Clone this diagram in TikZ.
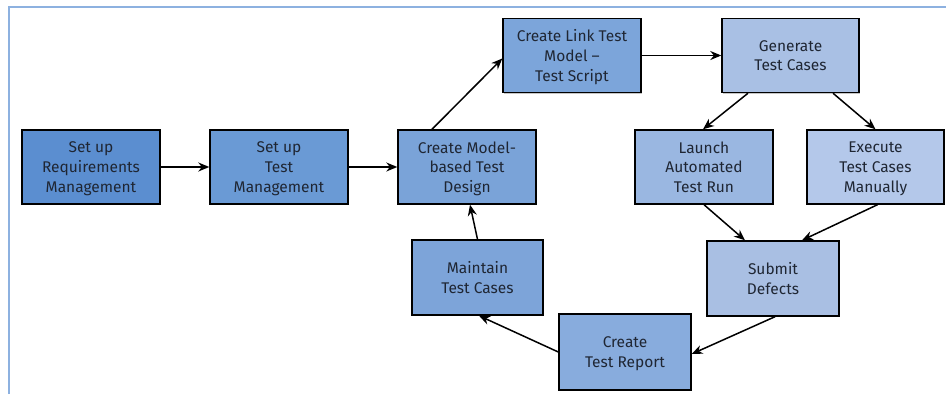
\documentclass[tikz,border=0pt]{standalone}
\usepackage{fontspec}
\setmainfont{Fira Sans}
\usetikzlibrary{arrows.meta,calc,shadows}
\definecolor{frameblue}{HTML}{8DB1E0}
\definecolor{inkdark}{HTML}{1F2633}
\definecolor{cA}{HTML}{5B8ED0}
\definecolor{cB}{HTML}{6A9AD5}
\definecolor{cC}{HTML}{7AA3D8}
\definecolor{cD}{HTML}{7CA5DA}
\definecolor{cE}{HTML}{A9C0E4}
\definecolor{cF}{HTML}{9AB7E1}
\definecolor{cG}{HTML}{B4C8EA}
\definecolor{cH}{HTML}{7DA4D9}
\definecolor{cI}{HTML}{A9BFE3}
\definecolor{cJ}{HTML}{88ACDD}
\tikzset{
  procbox/.style={draw=black, line width=1.4pt, align=center,
    minimum width=138pt, minimum height=74pt, inner sep=2pt, text depth=0pt,
    text=inkdark, font=\fontsize{15.5}{19.8}\selectfont,
    drop shadow={shadow xshift=1.2pt, shadow yshift=-1.2pt, opacity=0.45, fill=gray}},
  smallbox/.style={procbox, minimum width=132pt, minimum height=75pt},
  flow/.style={draw=black, line width=1.5pt, -{Stealth[length=11pt,width=9pt]}}
}
\begin{document}
\begin{tikzpicture}[x=1pt,y=-1pt]
\useasboundingbox (0,0) rectangle (946,394);
% outer frame: top and left rules
\draw[frameblue, line width=2.5pt] (9,394) -- (9,7) -- (946,7);

% process steps
\node[procbox, fill=cA] (req)  at (91,167)    {Set up\\Requirements\\Management};
\node[procbox, fill=cB] (tm)   at (279,167)   {Set up\\Test\\Management};
\node[procbox, fill=cC] (mbd)  at (467,167)   {Create Model-\\based Test\\Design};
\node[procbox, fill=cD] (link) at (572,55.5)  {Create Link Test\\Model --\\Test Script};
\node[procbox, fill=cE, minimum width=137pt] (gen)  at (790.5,55.5) {Generate\\Test Cases};
\node[procbox, fill=cF] (auto) at (704,167)   {Launch\\Automated\\Test Run};
\node[procbox, fill=cG, minimum width=137pt] (man)  at (875.5,167) {Execute\\Test Cases\\Manually};
\node[smallbox, fill=cH, minimum width=131pt] (maint) at (477.5,277.5) {Maintain\\Test Cases};
\node[smallbox, fill=cI] (defect) at (773,278.5) {Submit\\Defects};
\node[smallbox, fill=cJ, minimum height=76pt] (report) at (625,352) {Create\\Test Report};

% connectors
\draw[flow] (req.east) -- (tm.west);
\draw[flow] (tm.east) -- (mbd.west);
\draw[flow] ([xshift=-35pt]mbd.north) -- ([yshift=-3pt]link.west);
\draw[flow] (link.east) -- (gen.west);
\draw[flow] ([xshift=-42.5pt]gen.south) -- ([xshift=-1pt]auto.north);
\draw[flow] ([xshift=42.5pt]gen.south) -- (man.north);
\draw[flow] (auto.south) -- ([xshift=-28pt]defect.north);
\draw[flow] ([xshift=2pt]man.south) -- ([xshift=29pt]defect.north);
\draw[flow] ([xshift=2pt]defect.south) -- ([yshift=-2pt]report.east);
\draw[flow] (report.west) -- ([xshift=1.5pt]maint.south);
\draw[flow] (maint.north) -- ([xshift=3pt]mbd.south);
\end{tikzpicture}
\end{document}
